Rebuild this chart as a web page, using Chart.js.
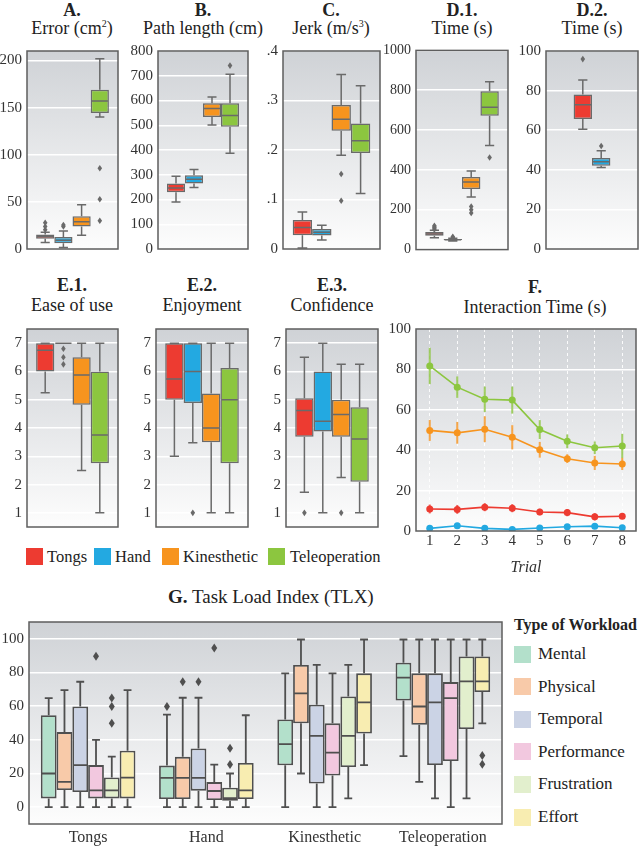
<!DOCTYPE html>
<html>
<head>
<meta charset="utf-8">
<script src="https://cdn.jsdelivr.net/npm/chart.js"></script>
<style>
  body { margin: 0; background: #fff; }
  #fig { position: relative; width: 640px; height: 847px; overflow: hidden;
         font-family: "Liberation Serif", "DejaVu Serif", serif; color: #222; }
  #fig canvas { position: absolute; }
  .t { position: absolute; width: 200px; text-align: center; line-height: 1; white-space: nowrap; }
  .hd { font-weight: bold; font-size: 18px; }
  .sub { font-size: 18px; }
  sup { font-size: 10px; vertical-align: 7px; line-height: 0; }
  .lg { position: absolute; font-size: 16.5px; line-height: 1; white-space: nowrap; }
  .sw { position: absolute; width: 17px; height: 17px; }
</style>
</head>
<body>
<div id="fig">
  <!-- top row titles -->
  <div class="t hd"  style="left:-28px; top:1px">A.</div>
  <div class="t sub" style="left:-28px; top:19px">Error (cm<sup>2</sup>)</div>
  <div class="t hd"  style="left:103px; top:1px">B.</div>
  <div class="t sub" style="left:103px; top:19px">Path length (cm)</div>
  <div class="t hd"  style="left:231px; top:1px">C.</div>
  <div class="t sub" style="left:231px; top:19px">Jerk (m/s<sup>3</sup>)</div>
  <div class="t hd"  style="left:362px; top:1px">D.1.</div>
  <div class="t sub" style="left:362px; top:19px">Time (s)</div>
  <div class="t hd"  style="left:492px; top:1px">D.2.</div>
  <div class="t sub" style="left:492px; top:19px">Time (s)</div>

  <!-- middle row titles -->
  <div class="t hd"  style="left:-28px; top:276px">E.1.</div>
  <div class="t sub" style="left:-28px; top:296px">Ease of use</div>
  <div class="t hd"  style="left:102px; top:276px">E.2.</div>
  <div class="t sub" style="left:102px; top:296px">Enjoyment</div>
  <div class="t hd"  style="left:232px; top:276px">E.3.</div>
  <div class="t sub" style="left:232px; top:296px">Confidence</div>
  <div class="t hd"  style="left:435px; top:278px">F.</div>
  <div class="t sub" style="left:435px; top:298px">Interaction Time (s)</div>

  <!-- condition legend -->
  <div class="sw" style="left:26px; top:548px; background:#ed3b31"></div>
  <div class="lg" style="left:47px; top:549px">Tongs</div>
  <div class="sw" style="left:94px; top:548px; background:#23a9e1"></div>
  <div class="lg" style="left:115px; top:549px">Hand</div>
  <div class="sw" style="left:162px; top:548px; background:#f7941e"></div>
  <div class="lg" style="left:183px; top:549px">Kinesthetic</div>
  <div class="sw" style="left:268px; top:548px; background:#8cc63f"></div>
  <div class="lg" style="left:290px; top:549px">Teleoperation</div>

  <!-- G title and workload legend -->
  <div class="t" style="left:168px; top:587px; font-size:19px"><b>G.</b> Task Load Index (TLX)</div>
  <div class="lg" style="left:514px; top:617px; font-weight:bold; font-size:16px">Type of Workload</div>
</div>

<script>
const conditions = ['Tongs', 'Hand', 'Kinesthetic', 'Teleoperation'];
const condColors = ['#ed3b31', '#23a9e1', '#f7941e', '#8cc63f'];

// box rows: [low whisker, q1, median, q3, high whisker]
const errorBox = [[6.8, 10.9, 13.3, 15.3, 17.7], [1.7, 6.1, 9.2, 12.6, 19], [14.6, 23.8, 28.9, 34.7, 46.9], [140, 144.2, 157, 169, 201.7]];
const errorOut = [[20.4, 23.8, 27.9], [23.8, 25.5], [], [29.9, 52.7, 85.7]];
const errorTicks = [0, 50, 100, 150, 200];

const pathBox = [[190, 229.5, 246.6, 265, 294], [248, 265, 282, 297.7, 321], [501, 533.8, 568, 588.9, 613.8], [387, 494.4, 539, 588.9, 705.6]];
const pathOut = [[], [], [], [741]];
const pathTicks = [0, 100, 200, 300, 400, 500, 600, 700, 800];

const jerkBox = [[0.002, 0.028, 0.0436, 0.0585, 0.0748], [0.018, 0.0273, 0.0338, 0.0403, 0.048], [0.1893, 0.2387, 0.2621, 0.2907, 0.3525], [0.1119, 0.1938, 0.2185, 0.2537, 0.3298]];
const jerkOut = [[], [], [0.0976, 0.1515], []];
const jerkTicks = [0, 0.1, 0.2, 0.3, 0.4];

const time1Box = [[60, 69, 78, 88, 97], [43, 46.4, 49.6, 52.8, 57], [264, 304, 339, 365, 394], [523, 672, 715, 795, 843]];
const time1Out = [[102, 108, 114, 120], [60, 64], [184, 200, 216], [462]];
const time1Ticks = [0, 200, 400, 600, 800, 1000];

// D.2 only has Tongs and Hand, drawn in the middle two slots
const time2Box = [null, [60.5, 65.7, 72.8, 78, 85.4], [41.1, 42.1, 44.1, 45.9, 49.6], null];
const time2Out = [[], [95.9], [52], []];
const time2Colors = ['#0000', condColors[0], condColors[1], '#0000'];
const time2Ticks = [0, 20, 40, 60, 80, 100];

const easeBox = [[5.25, 6, 6.75, 7, 7], [7, 7, 7, 7, 7], [2.5, 4.82, 5.87, 6.5, 7], [1, 2.75, 3.75, 6, 7]];
const easeOut = [[], [6.25, 6.5, 6.8], [], []];
const enjoyBox = [[3, 5, 5.73, 7, 7], [3.48, 4.88, 6, 7, 7], [1, 3.5, 4, 5.22, 7], [1, 2.75, 5, 6.12, 7]];
const enjoyOut = [[], [1], [], []];
const confBox = [[1.73, 3.69, 4.62, 5.05, 6.5], [1, 3.88, 4.24, 6, 7], [2.25, 3.69, 4.48, 5, 6.25], [1, 2.1, 3.61, 4.73, 6.25]];
const confOut = [[1], [], [1], []];
const likertTicks = [1, 2, 3, 4, 5, 6, 7];

// F. interaction time per trial: means and error bar half-lengths
const trials = ['1', '2', '3', '4', '5', '6', '7', '8'];
const itTongs = [10.9, 10.7, 11.8, 11.3, 9.4, 9.1, 7.0, 7.3];
const itTongsErr = [2.2, 2.2, 2, 2, 1.6, 1.8, 1.8, 1.4];
const itHand = [1.3, 2.6, 1.3, 0.8, 1.5, 2.1, 2.4, 1.6];
const itHandErr = [0.8, 1, 0.8, 0.6, 0.8, 0.9, 1, 0.8];
const itKin = [49.8, 48.6, 50.4, 46.4, 40.2, 35.8, 33.7, 33.2];
const itKinErr = [5.2, 5.4, 6.4, 6, 3.9, 2.2, 3.5, 3];
const itTele = [81.7, 71.2, 65.2, 64.8, 50.2, 44.4, 41.2, 42.1];
const itTeleErr = [9, 5.3, 6.3, 6.7, 4.7, 3.4, 3.1, 6];
const itTicks = [0, 20, 40, 60, 80, 100];

// G. TLX, one row per workload: [low, q1, median, q3, high]
const workloads = ['Mental', 'Physical', 'Temporal', 'Performance', 'Frustration', 'Effort'];
const workloadColors = ['#b3e0cb', '#f8caa9', '#cbd3e5', '#f2c8df', '#e2efcd', '#f8edb1'];
const tlxTongs = [[0, 5.2, 20, 54.6, 64.8], [0, 10.2, 15, 44.6, 69.5], [0, 9, 25, 59.8, 74.5], [0, 5.2, 10, 25, 40], [0, 5.2, 10, 17.6, 30], [0, 5.2, 17.6, 33.5, 69.5]];
const tlxTongsOut = [[], [], [], [89.7], [49.8, 59.8, 64.8], []];
const tlxHand = [[0, 4.8, 17.4, 24.7, 55], [0, 4.8, 17.4, 29.9, 65], [0, 9.8, 17.4, 34.9, 65], [0, 4.2, 9.6, 14.9, 25.3], [0, 3.8, 5.4, 11.5, 20], [0, 4.8, 10, 26.2, 54.6]];
const tlxHandOut = [[59.8], [74.5], [74.5], [94.6], [25.3, 35], []];
const tlxKin = [[0, 24.9, 37.4, 52.1, 79.5], [20, 49.8, 67.6, 84.5, 99.6], [0, 14, 42.3, 60.9, 84.5], [0, 18.8, 32.4, 49.8, 79.5], [5.2, 23.9, 42.3, 65.7, 84.5], [25, 43.7, 62.3, 79.5, 99.6]];
const tlxKinOut = [[], [], [], [], [], []];
const tlxTele = [[30.3, 63.4, 77, 85.8, 99.6], [15, 48.9, 59.8, 79.5, 99.6], [5.2, 25, 62.3, 79.5, 99.6], [0, 27.4, 64.8, 74.3, 99.6], [5.2, 46.4, 74.7, 89.5, 99.6], [49.8, 68.4, 74.7, 89.5, 99.6]];
const tlxTeleOut = [[], [], [], [], [], [25.5, 30.7]];
const tlxTicks = [0, 20, 40, 60, 80, 100];

Chart.defaults.font.family = '"Liberation Serif", "DejaVu Serif", serif';
Chart.defaults.color = '#333';
Chart.defaults.animation = false;

const fig = document.getElementById('fig');

// shaded plot background + frame, like the seaborn style of the paper
const panelStyle = {
    id: 'panelStyle',
    beforeDraw(chart) {
        const {ctx, chartArea: a} = chart;
        const g = ctx.createLinearGradient(0, a.top, 0, a.bottom);
        g.addColorStop(0, '#cfd2d6');
        g.addColorStop(1, '#fdfdfd');
        ctx.save();
        ctx.fillStyle = g;
        ctx.fillRect(a.left, a.top, a.right - a.left, a.bottom - a.top);
        ctx.restore();
    },
    afterDraw(chart) {
        const {ctx, chartArea: a} = chart;
        ctx.save();
        ctx.strokeStyle = '#5e5e5e';
        ctx.lineWidth = 1.5;
        ctx.strokeRect(a.left, a.top, a.right - a.left, a.bottom - a.top);
        ctx.restore();
    }
};

// whiskers, medians and outlier diamonds on top of the floating bars
const boxExtras = {
    id: 'boxExtras',
    afterDatasetsDraw(chart, args, opts) {
        const ctx = chart.ctx;
        const y = chart.scales.y;
        chart.data.datasets.forEach((ds, i) => {
            if (!ds.stats) return;
            chart.getDatasetMeta(i).data.forEach((bar, j) => {
                const s = ds.stats[j];
                if (!s) return;
                const cx = bar.x, hw = bar.width / 2, cap = hw * 0.5;
                const [lo, q1, med, q3, hi] = s.map(v => y.getPixelForValue(v));
                ctx.save();
                ctx.strokeStyle = opts.color;
                ctx.lineWidth = opts.lw;
                ctx.beginPath();
                ctx.moveTo(cx, q3); ctx.lineTo(cx, hi);
                ctx.moveTo(cx - cap, hi); ctx.lineTo(cx + cap, hi);
                ctx.moveTo(cx, q1); ctx.lineTo(cx, lo);
                ctx.moveTo(cx - cap, lo); ctx.lineTo(cx + cap, lo);
                ctx.moveTo(cx - hw + 1, med); ctx.lineTo(cx + hw - 1, med);
                ctx.stroke();
                ctx.fillStyle = opts.color;
                (ds.outliers[j] || []).forEach(v => {
                    const py = y.getPixelForValue(v);
                    ctx.beginPath();
                    ctx.moveTo(cx, py - opts.dh);
                    ctx.lineTo(cx + opts.dw, py);
                    ctx.lineTo(cx, py + opts.dh);
                    ctx.lineTo(cx - opts.dw, py);
                    ctx.closePath();
                    ctx.fill();
                });
                ctx.restore();
            });
        });
    }
};

// vertical error bars for the line chart
const errorBars = {
    id: 'errorBars',
    beforeDatasetsDraw(chart) {
        const ctx = chart.ctx;
        const y = chart.scales.y;
        chart.data.datasets.forEach((ds, i) => {
            chart.getDatasetMeta(i).data.forEach((pt, j) => {
                ctx.save();
                ctx.strokeStyle = ds.borderColor;
                ctx.globalAlpha = 0.8;
                ctx.lineWidth = 2;
                ctx.beginPath();
                ctx.moveTo(pt.x, y.getPixelForValue(ds.data[j] - ds.err[j]));
                ctx.lineTo(pt.x, y.getPixelForValue(ds.data[j] + ds.err[j]));
                ctx.stroke();
                ctx.restore();
            });
        });
    }
};

function addCanvas(left, top, w, h) {
    const c = document.createElement('canvas');
    c.width = w; c.height = h;
    c.style.left = left + 'px'; c.style.top = top + 'px';
    c.style.width = w + 'px'; c.style.height = h + 'px';
    fig.appendChild(c);
    return c;
}

function yScale(min, max, ticks, axisW, fontSize, fmt) {
    return {
        min: min, max: max,
        afterFit: s => { s.width = axisW; },
        afterBuildTicks: s => { s.ticks = ticks.map(v => ({value: v})); },
        grid: { color: '#ffffff', lineWidth: 1.5, drawTicks: false },
        border: { display: false },
        ticks: { font: { size: fontSize }, color: '#333', padding: 5,
                 callback: fmt || (v => v) }
    };
}

// one small box plot panel: plot = [x0, y0, x1, y1] in page pixels
function boxPanel(plot, axisW, boxes, outs, colors, yOpts) {
    const w = axisW + (plot[2] - plot[0]) + 2;
    const h = (plot[3] - plot[1]) + 20;
    const c = addCanvas(plot[0] - axisW, plot[1] - 10, w, h);
    new Chart(c, {
        type: 'bar',
        data: {
            labels: [''],
            datasets: boxes.map((b, i) => ({
                label: conditions[i],
                data: [b ? [b[1], b[3]] : null],
                stats: [b],
                outliers: [outs[i]],
                backgroundColor: colors[i],
                borderColor: '#6a6a6a',
                borderWidth: 1.5,
                borderSkipped: false,
                categoryPercentage: 0.8,
                barPercentage: 1
            }))
        },
        options: {
            responsive: false,
            layout: { padding: { top: 10, bottom: 10, right: 2, left: 0 } },
            plugins: {
                legend: { display: false },
                tooltip: { enabled: false },
                boxExtras: { color: '#6a6a6a', lw: 1.5, dw: 2.3, dh: 3.3 }
            },
            scales: { x: { display: false }, y: yOpts }
        },
        plugins: [panelStyle, boxExtras]
    });
}

const jerkFmt = v => v === 0 ? '0' : v.toFixed(1).replace(/^0/, '');

boxPanel([27, 47, 118, 253], 27, errorBox, errorOut, condColors, yScale(0, 210, errorTicks, 27, 15));
boxPanel([158, 47, 248, 253], 35, pathBox, pathOut, condColors, yScale(0, 800, pathTicks, 35, 15));
boxPanel([283, 47, 380, 253], 30, jerkBox, jerkOut, condColors, yScale(0, 0.4, jerkTicks, 30, 15, jerkFmt));
boxPanel([416, 47, 508, 253], 36, time1Box, time1Out, condColors, yScale(0, 1000, time1Ticks, 36, 14));
boxPanel([546, 47, 638, 253], 33, time2Box, time2Out, time2Colors, yScale(0, 100, time2Ticks, 33, 15));

boxPanel([27, 325, 118, 531], 27, easeBox, easeOut, condColors, yScale(0.5, 7.5, likertTicks, 27, 15));
boxPanel([156, 325, 248, 531], 27, enjoyBox, enjoyOut, condColors, yScale(0.5, 7.5, likertTicks, 27, 15));
boxPanel([286, 325, 378, 531], 27, confBox, confOut, condColors, yScale(0.5, 7.5, likertTicks, 27, 15));

// F. interaction time line chart
(function () {
    const axisW = 34;
    const c = addCanvas(416 - axisW, 315, axisW + 222 + 2, 10 + 206 + 50);
    const series = [
        [itTele, itTeleErr, condColors[3]],
        [itKin, itKinErr, condColors[2]],
        [itTongs, itTongsErr, condColors[0]],
        [itHand, itHandErr, condColors[1]]
    ];
    new Chart(c, {
        type: 'line',
        data: {
            labels: trials,
            datasets: series.map(s => ({
                data: s[0],
                err: s[1],
                borderColor: s[2],
                backgroundColor: s[2],
                borderWidth: 1.6,
                pointRadius: 3.5,
                pointBorderWidth: 0,
                tension: 0
            }))
        },
        options: {
            responsive: false,
            layout: { padding: { top: 10, bottom: 0, right: 2, left: 0 } },
            plugins: { legend: { display: false }, tooltip: { enabled: false } },
            scales: {
                x: {
                    offset: true,
                    afterFit: s => { s.height = 50; },
                    grid: { color: 'rgba(255,255,255,0.9)', lineWidth: 1, offset: false, drawTicks: false },
                    border: { display: false, dash: [3, 3] },
                    ticks: { font: { size: 15 }, color: '#333', padding: 1 },
                    title: { display: true, text: 'Trial', font: { size: 16, style: 'italic' }, color: '#333' }
                },
                y: yScale(0, 100, itTicks, axisW, 15)
            }
        },
        plugins: [panelStyle, errorBars]
    });
})();

// G. task load index, grouped box plots
(function () {
    const axisW = 29;
    const c = addCanvas(0, 608, axisW + 473 + 2, 10 + 206 + 24);
    const groups = [tlxTongs, tlxHand, tlxKin, tlxTele];
    const groupOut = [tlxTongsOut, tlxHandOut, tlxKinOut, tlxTeleOut];
    new Chart(c, {
        type: 'bar',
        data: {
            labels: conditions,
            datasets: workloads.map((name, w) => ({
                label: name,
                data: groups.map(g => [g[w][1], g[w][3]]),
                stats: groups.map(g => g[w]),
                outliers: groupOut.map(o => o[w]),
                backgroundColor: workloadColors[w],
                borderColor: '#4f4f4f',
                borderWidth: 1.8,
                borderSkipped: false,
                categoryPercentage: 0.8,
                barPercentage: 1
            }))
        },
        options: {
            responsive: false,
            layout: { padding: { top: 10, bottom: 0, right: 2, left: 0 } },
            plugins: {
                legend: { display: false },
                tooltip: { enabled: false },
                boxExtras: { color: '#4f4f4f', lw: 1.8, dw: 3, dh: 4.5 }
            },
            scales: {
                x: {
                    afterFit: s => { s.height = 24; },
                    grid: { display: false, drawTicks: false },
                    border: { display: false },
                    ticks: { font: { size: 16 }, color: '#333', padding: 4 }
                },
                y: yScale(-10, 110, tlxTicks, axisW, 15)
            }
        },
        plugins: [panelStyle, boxExtras]
    });

    // legend swatches for workload types
    workloads.forEach((name, w) => {
        const cy = 654 + w * 32.6;
        const sw = document.createElement('div');
        sw.className = 'sw';
        sw.style.left = '514px';
        sw.style.top = (cy - 8.5) + 'px';
        sw.style.background = workloadColors[w];
        fig.appendChild(sw);
        const lb = document.createElement('div');
        lb.className = 'lg';
        lb.style.left = '538px';
        lb.style.top = (cy - 9) + 'px';
        lb.style.fontSize = '17px';
        lb.textContent = name;
        fig.appendChild(lb);
    });
})();
</script>
</body>
</html>
